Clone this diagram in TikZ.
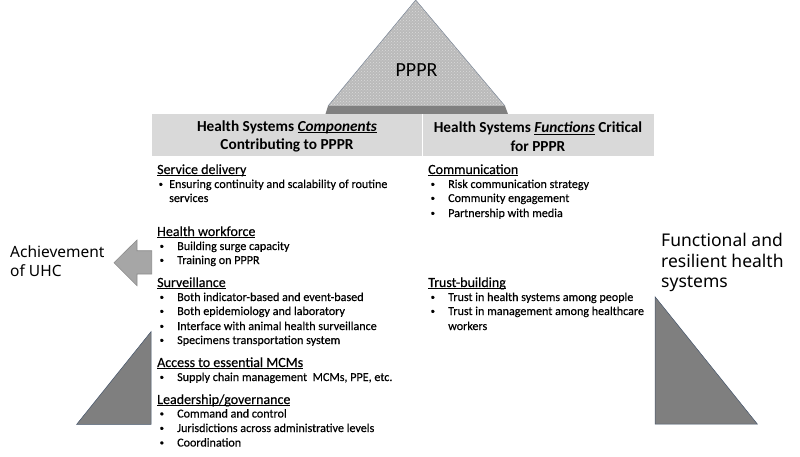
\documentclass[tikz,border=0pt]{standalone}
\usepackage{fontspec}
\setmainfont{Carlito}
\newfontfamily\bodyfont{Carlito}[FakeBold=0.35]
\newfontfamily\sidefont{Noto Sans}
\usetikzlibrary{patterns}
\definecolor{bandgray}{HTML}{808080}
\definecolor{headgray}{HTML}{D9D9D9}
\definecolor{arrowgray}{HTML}{A6A6A6}
\definecolor{arrowedge}{HTML}{8C8C8C}
\definecolor{trigray}{HTML}{7F7F7F}
\definecolor{triedge}{HTML}{44546A}
\definecolor{pyrgray}{HTML}{BABABA}
\definecolor{pyrlight}{HTML}{DADADA}
\newcommand{\uline}[1]{\underline{\smash{#1}}}
\begin{document}
\begin{tikzpicture}[x=1pt,y=-1pt,
  head/.style={anchor=base west,inner sep=0pt,font=\bodyfont\fontsize{14}{16}\selectfont},
  bul/.style={anchor=base west,inner sep=0pt,font=\bodyfont\fontsize{12.1}{14}\selectfont},
  blt/.style={anchor=base west,inner sep=0pt,yshift=1.2pt,font=\bodyfont\fontsize{8.5}{10}\selectfont},
  hdr/.style={align=center,inner sep=0pt,font=\bfseries\fontsize{15.3}{18.7}\selectfont},
  side/.style={anchor=west,align=left,inner sep=0pt,font=\sidefont}]
\useasboundingbox (0,0) rectangle (800,457);
% top pyramid
\fill[pyrgray] (415.7,0) -- (505,106) -- (328,106) -- cycle;
\fill[pattern=crosshatch dots,pattern color=pyrlight] (415.7,0) -- (505,106) -- (328,106) -- cycle;
\draw[triedge!70,line width=0.5pt] (328,106) -- (415.7,0) -- (505,106);
\fill[bandgray] (328,106) -- (505,106) -- (508,114) -- (325.5,114) -- cycle;
\node[inner sep=0pt,font=\fontsize{20}{22}\selectfont] (pppr) at (416.5,70) {PPPR};
% header bar
\fill[headgray] (152,114) rectangle (654,156);
\draw[white,line width=1.5pt] (422.7,114) -- (422.7,156);
\node[hdr] (hleft) at (287,136.5) {Health Systems \uline{\itshape Components}\\Contributing to PPPR};
\node[hdr] (hright) at (538,136.5) {Health Systems \uline{\itshape Functions} Critical\\for PPPR};
% left column
\node[head] (sd) at (157,174) {\uline{Service delivery}};
\node[blt] (sdb) at (158.5,188) {•};
\node[bul] (sd1) at (169,188) {Ensuring continuity and scalability of routine};
\node[bul] (sd2) at (169,202) {services};
\node[head] (hw) at (157,236) {\uline{Health workforce}};
\node[blt] (hwb1) at (159.5,250) {•};
\node[bul] (hw1) at (177,250) {Building surge capacity};
\node[blt] (hwb2) at (159.5,264) {•};
\node[bul] (hw2) at (177,264) {Training on PPPR};
\node[head] (sv) at (157,287) {\uline{Surveillance}};
\node[blt] (svb1) at (159.5,301) {•};
\node[bul] (sv1) at (177,301) {Both indicator-based and event-based};
\node[blt] (svb2) at (159.5,315) {•};
\node[bul] (sv2) at (177,315) {Both epidemiology and laboratory};
\node[blt] (svb3) at (159.5,330) {•};
\node[bul] (sv3) at (177,330) {Interface with animal health surveillance};
\node[blt] (svb4) at (159.5,344) {•};
\node[bul] (sv4) at (177,344) {Specimens transportation system};
\node[head] (ac) at (157,367) {\uline{Access to essential MCMs}};
\node[blt] (acb1) at (159.5,381) {•};
\node[bul] (ac1) at (177,381) {Supply chain management\ \ MCMs, PPE, etc.};
\node[head] (lg) at (157,404) {\uline{Leadership/governance}};
\node[blt] (lgb1) at (159.5,417.5) {•};
\node[bul] (lg1) at (177,417.5) {Command and control};
\node[blt] (lgb2) at (159.5,432) {•};
\node[bul] (lg2) at (177,432) {Jurisdictions across administrative levels};
\node[blt] (lgb3) at (159.5,446.5) {•};
\node[bul] (lg3) at (177,446.5) {Coordination};
% right column
\node[head] (cm) at (428,174) {\uline{Communication}};
\node[blt] (cmb1) at (430.5,188) {•};
\node[bul] (cm1) at (448,188) {Risk communication strategy};
\node[blt] (cmb2) at (430.5,202) {•};
\node[bul] (cm2) at (448,202) {Community engagement};
\node[blt] (cmb3) at (430.5,217) {•};
\node[bul] (cm3) at (448,217) {Partnership with media};
\node[head] (tb) at (428,287) {\uline{Trust-building}};
\node[blt] (tbb1) at (430.5,301) {•};
\node[bul] (tb1) at (448,301) {Trust in health systems among people};
\node[blt] (tbb2) at (430.5,315) {•};
\node[bul] (tb2) at (448,315) {Trust in management among healthcare};
\node[bul] (tb3) at (448,330) {workers};
% left arrow
\draw[fill=arrowgray,draw=arrowedge,line width=0.6pt,line join=miter]
  (151.7,250.7) -- (137,250.7) -- (137,240) -- (114,262.7) -- (137,285.7) -- (137,274) -- (151.7,274) -- cycle;
\node[side,font=\sidefont\fontsize{15.5}{19.3}\selectfont] (uhc) at (10,261.5) {Achievement\\of UHC};
% right text
\node[side,font=\sidefont\fontsize{17.5}{20.7}\selectfont] (frhs) at (661,262.5) {Functional and\\resilient health\\systems};
% triangles
\draw[fill=trigray,draw=triedge,line width=0.5pt] (655,296.7) -- (757.3,424) -- (655,424) -- cycle;
\draw[fill=trigray,draw=triedge,line width=0.5pt] (151,331.7) -- (151,424.3) -- (76.7,424.3) -- cycle;
\end{tikzpicture}
\end{document}
